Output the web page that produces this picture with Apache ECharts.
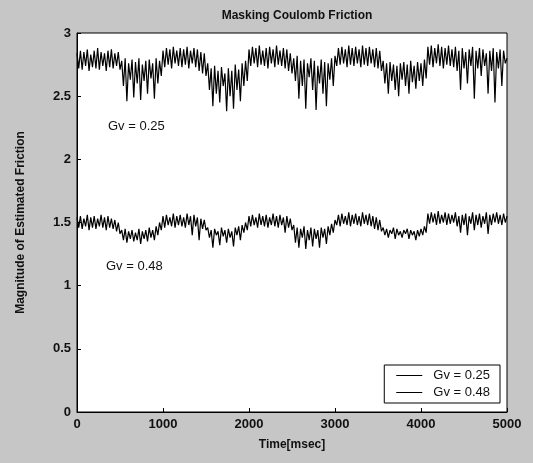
<!DOCTYPE html>
<html>
<head>
<meta charset="utf-8">
<script src="https://cdn.jsdelivr.net/npm/echarts@6/dist/echarts.min.js"></script>
<style>
  html, body { margin: 0; padding: 0; background: #c6c6c6; }
  #chart { width: 533px; height: 463px; }
</style>
</head>
<body>
<div id="chart"></div>
<script>
// sample times, msec
const times = [
  0, 20, 40, 60, 80, 100, 120, 140, 160, 180, 200, 220, 240, 260, 280, 300, 320, 340, 360, 380, 400, 420, 440, 460, 480,
  500, 520, 540, 560, 580, 600, 620, 640, 660, 680, 700, 720, 740, 760, 780, 800, 820, 840, 860, 880, 900, 920, 940, 960, 980,
  1000, 1020, 1040, 1060, 1080, 1100, 1120, 1140, 1160, 1180, 1200, 1220, 1240, 1260, 1280, 1300, 1320, 1340, 1360, 1380, 1400, 1420, 1440, 1460, 1480,
  1500, 1520, 1540, 1560, 1580, 1600, 1620, 1640, 1660, 1680, 1700, 1720, 1740, 1760, 1780, 1800, 1820, 1840, 1860, 1880, 1900, 1920, 1940, 1960, 1980,
  2000, 2020, 2040, 2060, 2080, 2100, 2120, 2140, 2160, 2180, 2200, 2220, 2240, 2260, 2280, 2300, 2320, 2340, 2360, 2380, 2400, 2420, 2440, 2460, 2480,
  2500, 2520, 2540, 2560, 2580, 2600, 2620, 2640, 2660, 2680, 2700, 2720, 2740, 2760, 2780, 2800, 2820, 2840, 2860, 2880, 2900, 2920, 2940, 2960, 2980,
  3000, 3020, 3040, 3060, 3080, 3100, 3120, 3140, 3160, 3180, 3200, 3220, 3240, 3260, 3280, 3300, 3320, 3340, 3360, 3380, 3400, 3420, 3440, 3460, 3480,
  3500, 3520, 3540, 3560, 3580, 3600, 3620, 3640, 3660, 3680, 3700, 3720, 3740, 3760, 3780, 3800, 3820, 3840, 3860, 3880, 3900, 3920, 3940, 3960, 3980,
  4000, 4020, 4040, 4060, 4080, 4100, 4120, 4140, 4160, 4180, 4200, 4220, 4240, 4260, 4280, 4300, 4320, 4340, 4360, 4380, 4400, 4420, 4440, 4460, 4480,
  4500, 4520, 4540, 4560, 4580, 4600, 4620, 4640, 4660, 4680, 4700, 4720, 4740, 4760, 4780, 4800, 4820, 4840, 4860, 4880, 4900, 4920, 4940, 4960, 4980,
  5000
];

// Gv = 0.25
const gv025 = [
  2.84, 2.72, 2.86, 2.71, 2.85, 2.74, 2.87, 2.70, 2.83, 2.73, 2.86, 2.72, 2.88, 2.71, 2.85, 2.74, 2.84, 2.70, 2.86, 2.73, 2.87, 2.72, 2.84, 2.74, 2.85, 2.71,
  2.78, 2.58, 2.80, 2.46, 2.76, 2.63, 2.79, 2.49, 2.77, 2.60, 2.80, 2.47, 2.75, 2.62, 2.78, 2.52, 2.79, 2.64, 2.76, 2.48, 2.80, 2.60, 2.78, 2.66,
  2.86, 2.73, 2.88, 2.75, 2.87, 2.72, 2.89, 2.76, 2.86, 2.74, 2.88, 2.73, 2.87, 2.75, 2.89, 2.72, 2.86, 2.76, 2.88, 2.73, 2.87, 2.70, 2.85, 2.68, 2.84, 2.66,
  2.76, 2.55, 2.72, 2.42, 2.74, 2.52, 2.70, 2.45, 2.73, 2.58, 2.68, 2.38, 2.72, 2.50, 2.70, 2.40, 2.75, 2.55, 2.71, 2.46, 2.76, 2.58, 2.78, 2.62,
  2.87, 2.74, 2.89, 2.76, 2.88, 2.73, 2.90, 2.75, 2.86, 2.74, 2.88, 2.72, 2.89, 2.76, 2.87, 2.73, 2.90, 2.75, 2.86, 2.74, 2.88, 2.72, 2.87, 2.70, 2.84, 2.68,
  2.80, 2.62, 2.82, 2.48, 2.78, 2.58, 2.79, 2.40, 2.76, 2.65, 2.80, 2.55, 2.78, 2.39, 2.74, 2.60, 2.79, 2.52, 2.77, 2.42, 2.76, 2.63, 2.80, 2.58, 2.82,
  2.74, 2.88, 2.75, 2.89, 2.76, 2.87, 2.73, 2.90, 2.75, 2.88, 2.74, 2.89, 2.76, 2.87, 2.73, 2.90, 2.75, 2.88, 2.74, 2.89, 2.76, 2.87, 2.73, 2.88, 2.72, 2.86, 2.70,
  2.78, 2.60, 2.76, 2.52, 2.77, 2.62, 2.75, 2.55, 2.74, 2.50, 2.76, 2.63, 2.77, 2.58, 2.75, 2.52, 2.78, 2.61, 2.74, 2.56, 2.77, 2.62, 2.76, 2.58, 2.79, 2.64,
  2.89, 2.75, 2.90, 2.73, 2.88, 2.76, 2.91, 2.74, 2.89, 2.72, 2.88, 2.75, 2.90, 2.74, 2.87, 2.73, 2.89, 2.70, 2.86, 2.55, 2.88, 2.72, 2.85, 2.60,
  2.87, 2.74, 2.89, 2.48, 2.86, 2.72, 2.88, 2.66, 2.87, 2.74, 2.84, 2.52, 2.86, 2.70, 2.88, 2.45, 2.85, 2.72, 2.87, 2.58, 2.86, 2.76, 2.80
];

// Gv = 0.48
const gv048 = [
  1.54, 1.46, 1.55, 1.45, 1.53, 1.47, 1.56, 1.44, 1.54, 1.46, 1.55, 1.45, 1.53, 1.47, 1.56, 1.46, 1.54, 1.44, 1.55, 1.46, 1.53, 1.45, 1.52, 1.43, 1.50, 1.41,
  1.44, 1.36, 1.45, 1.34, 1.43, 1.37, 1.44, 1.35, 1.42, 1.36, 1.45, 1.33, 1.43, 1.37, 1.44, 1.35, 1.46, 1.38, 1.44, 1.36, 1.47, 1.40, 1.50, 1.44,
  1.55, 1.46, 1.56, 1.48, 1.54, 1.47, 1.57, 1.46, 1.55, 1.48, 1.56, 1.47, 1.54, 1.46, 1.57, 1.48, 1.55, 1.40, 1.56, 1.47, 1.54, 1.36, 1.53, 1.45, 1.52, 1.44,
  1.46, 1.38, 1.44, 1.30, 1.45, 1.40, 1.43, 1.32, 1.46, 1.39, 1.44, 1.34, 1.45, 1.38, 1.43, 1.31, 1.46, 1.40, 1.47, 1.36, 1.48, 1.42, 1.50, 1.44,
  1.55, 1.47, 1.56, 1.48, 1.54, 1.46, 1.57, 1.48, 1.55, 1.47, 1.56, 1.46, 1.54, 1.48, 1.57, 1.47, 1.55, 1.46, 1.56, 1.48, 1.54, 1.42, 1.55, 1.46, 1.53, 1.44,
  1.48, 1.34, 1.46, 1.30, 1.45, 1.38, 1.47, 1.29, 1.44, 1.36, 1.46, 1.31, 1.45, 1.37, 1.44, 1.30, 1.46, 1.38, 1.45, 1.33, 1.47, 1.40, 1.49, 1.42, 1.52,
  1.48, 1.56, 1.47, 1.57, 1.49, 1.55, 1.48, 1.58, 1.47, 1.56, 1.49, 1.57, 1.48, 1.55, 1.47, 1.58, 1.49, 1.56, 1.48, 1.57, 1.47, 1.55, 1.45, 1.54, 1.44, 1.52, 1.43,
  1.46, 1.40, 1.45, 1.38, 1.44, 1.41, 1.46, 1.37, 1.45, 1.40, 1.43, 1.38, 1.44, 1.41, 1.45, 1.37, 1.44, 1.40, 1.43, 1.36, 1.44, 1.39, 1.45, 1.40, 1.47, 1.42,
  1.57, 1.49, 1.58, 1.50, 1.57, 1.48, 1.59, 1.49, 1.56, 1.50, 1.58, 1.48, 1.57, 1.49, 1.56, 1.50, 1.58, 1.47, 1.55, 1.42, 1.56, 1.48, 1.57, 1.40,
  1.55, 1.49, 1.58, 1.44, 1.56, 1.48, 1.57, 1.46, 1.55, 1.49, 1.58, 1.41, 1.56, 1.48, 1.57, 1.50, 1.58, 1.49, 1.56, 1.48, 1.57, 1.50, 1.55
];

const seriesNames = ["Gv = 0.25", "Gv = 0.48"];

const chart = echarts.init(document.getElementById("chart"));

const pairs = (vals) => vals.map((v, i) => [times[i], v]);

const option = {
  backgroundColor: "#c6c6c6",
  animation: false,
  title: {
    text: "Masking Coulomb Friction",
    left: 292,
    textAlign: "center",
    top: 5,
    textStyle: { fontFamily: "Liberation Sans", fontSize: 12, fontWeight: "bold", color: "#111" },
  },
  grid: {
    left: 77,
    right: 26,
    top: 33,
    bottom: 51,
    show: true,
    backgroundColor: "#ffffff",
    borderColor: "#000",
    borderWidth: 1,
  },
  legend: {
    data: seriesNames,
    orient: "vertical",
    right: 33,
    bottom: 60,
    backgroundColor: "#ffffff",
    borderColor: "#000",
    borderWidth: 1,
    padding: [4, 10, 4, 12],
    itemGap: 4,
    itemWidth: 26,
    itemHeight: 1,
    icon: "rect",
    textStyle: { fontFamily: "Liberation Sans", fontSize: 13, color: "#111", padding: [0, 0, 0, 6] },
  },
  xAxis: {
    type: "value",
    min: 0,
    max: 5000,
    interval: 1000,
    name: "Time[msec]",
    nameLocation: "middle",
    nameGap: 27,
    nameTextStyle: { fontFamily: "Liberation Sans", fontSize: 12, fontWeight: "bold", color: "#111" },
    axisLine: { lineStyle: { color: "#000" } },
    axisTick: { inside: true, length: 4, lineStyle: { color: "#000" } },
    axisLabel: {
      fontFamily: "Liberation Sans", fontSize: 13, fontWeight: "bold", color: "#111", margin: 6,
      formatter: (v) => String(v),
    },
    splitLine: { show: false },
  },
  yAxis: {
    type: "value",
    min: 0,
    max: 3,
    interval: 0.5,
    name: "Magnitude of Estimated Friction",
    nameLocation: "middle",
    nameGap: 50,
    nameTextStyle: { fontFamily: "Liberation Sans", fontSize: 12, fontWeight: "bold", color: "#111" },
    axisLine: { show: true, lineStyle: { color: "#000" } },
    axisTick: { show: true, inside: true, length: 4, lineStyle: { color: "#000" } },
    axisLabel: { fontFamily: "Liberation Sans", fontSize: 13, fontWeight: "bold", color: "#111", margin: 6 },
    splitLine: { show: false },
  },
  series: [
    {
      name: seriesNames[0],
      type: "line",
      data: pairs(gv025),
      symbol: "none",
      lineStyle: { width: 1.2, color: "#000" },
      itemStyle: { color: "#000" },
    },
    {
      name: seriesNames[1],
      type: "line",
      data: pairs(gv048),
      symbol: "none",
      lineStyle: { width: 1.2, color: "#000" },
      itemStyle: { color: "#000" },
    },
  ],
  graphic: [
    {
      type: "text",
      left: 108,
      top: 120,
      style: { text: "Gv = 0.25", fontFamily: "Liberation Sans", fontSize: 13, fill: "#111" },
    },
    {
      type: "text",
      left: 106,
      top: 260,
      style: { text: "Gv = 0.48", fontFamily: "Liberation Sans", fontSize: 13, fill: "#111" },
    },
  ],
};

chart.setOption(option);
</script>
</body>
</html>
